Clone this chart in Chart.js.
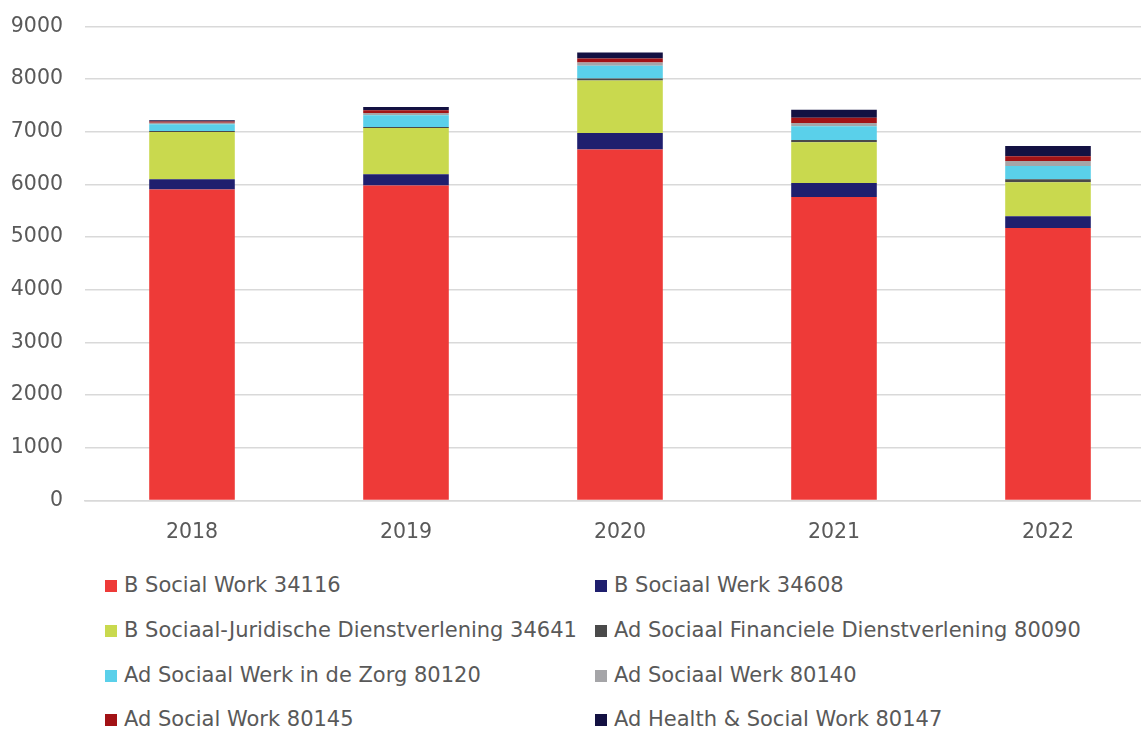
<!DOCTYPE html>
<html>
<head>
<meta charset="utf-8">
<script src="https://cdn.jsdelivr.net/npm/chart.js@4"></script>
<style>
    html, body { margin: 0; padding: 0; background: #fff; overflow: hidden; }
    #wrap { position: relative; width: 1141px; height: 729px; overflow: hidden; }
    #box { position: absolute; left: 0; top: -8px; width: 1160px; height: 573px; }
    #legend { position: absolute; left: 0; top: 565px; width: 1141px; font-family: 'DejaVu Sans'; font-size: 21px; color: #595959; }
    .item { position: absolute; white-space: nowrap; line-height: 24px; }
    .item span.sw { display: inline-block; width: 12px; height: 12px; margin-right: 7px; vertical-align: 0px; }
</style>
</head>
<body>
<div id="wrap">
    <div id="box"><canvas id="chart"></canvas></div>
    <div id="legend"></div>
</div>
<script>
// categories
const years = ['2018', '2019', '2020', '2021', '2022'];

// series
const socialWork34116 = [5900, 5980, 6660, 5760, 5170];
const sociaalWerk34608 = [195, 210, 316, 266, 222];
const sociaalJuridisch34641 = [898, 880, 994, 772, 646];
const financieel80090 = [19, 19, 38, 44, 57];
const zorg80120 = [127, 222, 241, 260, 253];
const sociaalWerk80140 = [30, 44, 63, 63, 95];
const socialWork80145 = [25, 50, 76, 101, 89];
const health80147 = [21, 63, 114, 152, 196];

const yTicks = [0, 1000, 2000, 3000, 4000, 5000, 6000, 7000, 8000, 9000];

const series = [
    { label: 'B Social Work 34116', data: socialWork34116, color: '#EE3A38' },
    { label: 'B Sociaal Werk 34608', data: sociaalWerk34608, color: '#1F1F6E' },
    { label: 'B Sociaal-Juridische Dienstverlening 34641', data: sociaalJuridisch34641, color: '#C9D94E' },
    { label: 'Ad Sociaal Financiele Dienstverlening 80090', data: financieel80090, color: '#4A4A4A' },
    { label: 'Ad Sociaal Werk in de Zorg 80120', data: zorg80120, color: '#5AD0EA' },
    { label: 'Ad Sociaal Werk 80140', data: sociaalWerk80140, color: '#A5A5A8' },
    { label: 'Ad Social Work 80145', data: socialWork80145, color: '#A21215' },
    { label: 'Ad Health & Social Work 80147', data: health80147, color: '#131142' }
];

Chart.defaults.font.family = 'DejaVu Sans';
Chart.defaults.color = '#595959';

const chart = new Chart(document.getElementById('chart'), {
    type: 'bar',
    data: {
        labels: years,
        datasets: series.map(s => ({
            label: s.label,
            data: s.data,
            backgroundColor: s.color,
            borderWidth: 0,
            barPercentage: 0.4,
            categoryPercentage: 1.0
        }))
    },
    options: {
        responsive: true,
        maintainAspectRatio: false,
        animation: false,
        layout: { padding: { top: 7, right: 5, left: 0, bottom: 0 } },
        plugins: { legend: { display: false }, tooltip: { enabled: false } },
        scales: {
            x: {
                stacked: true,
                grid: { display: false, drawTicks: false },
                border: { color: '#d9d9d9', width: 1.5 },
                ticks: { font: { size: 20.5 }, padding: 20, color: '#595959' }
            },
            y: {
                stacked: true,
                min: 0,
                max: 9000,
                afterBuildTicks: axis => { axis.ticks = yTicks.map(v => ({ value: v })); },
                afterFit: axis => { axis.width = 85; },
                grid: { color: '#d9d9d9', lineWidth: 1.5, drawTicks: false },
                border: { display: false },
                ticks: { font: { size: 20.5 }, padding: 22, color: '#595959', callback: v => String(v) }
            }
        }
    }
});

// two-column legend like the original
const legend = document.getElementById('legend');
const rowTops = [8, 53, 98, 142];
chart.data.datasets.forEach((ds, i) => {
    const el = document.createElement('div');
    el.className = 'item';
    el.style.left = (i % 2 === 0 ? 105 : 595) + 'px';
    el.style.top = rowTops[Math.floor(i / 2)] + 'px';
    const sw = document.createElement('span');
    sw.className = 'sw';
    sw.style.background = ds.backgroundColor;
    el.appendChild(sw);
    el.appendChild(document.createTextNode(ds.label));
    legend.appendChild(el);
});
</script>
</body>
</html>
